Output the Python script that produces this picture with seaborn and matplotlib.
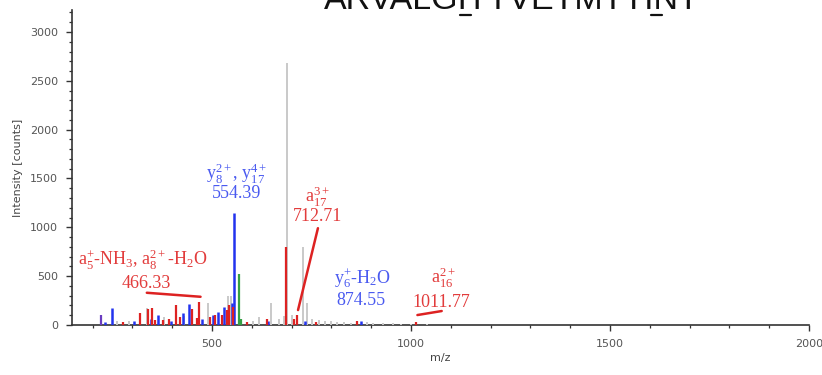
import matplotlib
matplotlib.use("Agg")
import matplotlib.pyplot as plt
from matplotlib.lines import Line2D
from matplotlib.ticker import MultipleLocator
import seaborn as sns
import pandas as pd

# ---------------- data ----------------
gray_mz = [262, 291, 336, 380, 430, 489, 539, 548, 603, 619, 647, 667, 681, 689,
           702, 729, 738, 752, 768, 785, 800, 815, 832, 850, 890, 905, 930, 955,
           975, 1000, 1040]
gray_int = [40, 40, 175, 80, 90, 230, 300, 300, 40, 85, 225, 60, 90, 2680,
            100, 800, 230, 60, 50, 40, 45, 30, 35, 25, 30, 25, 20, 25, 15, 15, 10]

blue_mz = [231, 249, 304, 346, 364, 397, 427, 443, 474, 502, 516, 531, 549.5,
           554.39, 640, 734, 874.55]
blue_int = [30, 177, 40, 60, 100, 40, 120, 220, 60, 100, 130, 180, 230,
            1150, 40, 40, 40]

red_mz = [276, 319, 338, 348, 357, 376, 393, 410, 420, 450, 461, 466.33, 495,
          507.5, 524, 537, 543.6, 552, 587, 637, 686, 705, 712.71, 760, 863.6,
          1011.77]
red_int = [30, 120, 160, 175, 50, 50, 60, 200, 80, 160, 70, 240, 80, 100, 100,
           150, 200, 180, 30, 60, 800, 60, 100, 30, 40, 30]

green_mz = [568.6, 572]
green_int = [520, 60]

purple_mz = [220]
purple_int = [100]

title_text = "ARVALGITTVETMTTINT"

ann_blue1 = r"$\mathrm{y}_{8}^{2+}$, $\mathrm{y}_{17}^{4+}$"
ann_blue1_val = "554.39"
ann_red1 = r"$\mathrm{a}_{17}^{3+}$"
ann_red1_val = "712.71"
ann_red2 = r"$\mathrm{a}_{5}^{+}$-NH$_{3}$, $\mathrm{a}_{8}^{2+}$-H$_{2}$O"
ann_red2_val = "466.33"
ann_blue2 = r"$\mathrm{y}_{6}^{+}$-H$_{2}$O"
ann_blue2_val = "874.55"
ann_red3 = r"$\mathrm{a}_{16}^{2+}$"
ann_red3_val = "1011.77"

# ---------------- style ----------------
sns.set_theme(style="ticks")
plt.rcParams["font.family"] = ["DejaVu Sans"]
plt.rcParams["mathtext.fontset"] = "custom"
plt.rcParams["mathtext.rm"] = "Liberation Serif"
plt.rcParams["mathtext.it"] = "Liberation Serif:italic"
plt.rcParams["mathtext.bf"] = "Liberation Serif:bold"

BLUE = "#2233ee"
BLUE_T = "#4a5af0"
RED = "#dd2222"
RED_T = "#e23c3c"
GRAY = "#c9c9c9"
GREEN = "#35a045"
PURPLE = "#6a3cc0"

fig = plt.figure(figsize=(8.22, 3.75), dpi=100)
ax = fig.add_axes([72 / 822, 1 - 325 / 375, (809 - 72) / 822, (325 - 10) / 375])

frames = []
for mz, it, c in [(gray_mz, gray_int, "gray"), (purple_mz, purple_int, "purple"),
                  (blue_mz, blue_int, "blue"), (red_mz, red_int, "red"),
                  (green_mz, green_int, "green")]:
    frames.append(pd.DataFrame({"mz": mz, "intensity": it, "ion": c}))
df = pd.concat(frames, ignore_index=True)

cmap = {"gray": GRAY, "purple": PURPLE, "blue": BLUE, "red": RED, "green": GREEN}
lw = {"gray": 1.4, "purple": 1.6, "blue": 1.8, "red": 1.6, "green": 1.6}
for ion in ["gray", "purple", "blue", "red", "green"]:
    sub = df[df["ion"] == ion]
    ax.vlines(sub["mz"], 0, sub["intensity"], color=cmap[ion], lw=lw[ion], zorder=3)

ax.set_xlim(148, 2000)
ax.set_ylim(0, 3225)
ax.xaxis.set_major_locator(MultipleLocator(500))
ax.xaxis.set_minor_locator(MultipleLocator(100))
ax.yaxis.set_major_locator(MultipleLocator(500))
ax.yaxis.set_minor_locator(MultipleLocator(100))
ax.tick_params(axis="both", which="major", direction="out", length=4, width=1,
               labelsize=8, labelcolor="#555555", color="#333333", pad=6)
ax.tick_params(axis="both", which="minor", direction="out", length=2.5, width=0.9,
               color="#333333")
for s in ["top", "right"]:
    ax.spines[s].set_visible(False)
for s in ["left", "bottom"]:
    ax.spines[s].set_color("#333333")
    ax.spines[s].set_linewidth(1.2)
ax.set_xlabel("m/z", fontsize=8, color="#444444", labelpad=3)
ax.set_ylabel("Intensity [counts]", fontsize=8, color="#444444", labelpad=5)

# ---------------- annotations ----------------
fs = 13
def lab(x, y, s, color):
    ax.text(x, y, s, ha="center", va="center", fontsize=fs, color=color,
            family="Liberation Serif", zorder=5)

lab(562, 1553, ann_blue1, BLUE_T)
lab(562, 1349, ann_blue1_val, BLUE_T)
lab(764, 1308, ann_red1, RED_T)
lab(765, 1114, ann_red1_val, RED_T)
lab(325, 664, ann_red2, RED_T)
lab(334, 429, ann_red2_val, RED_T)
lab(879, 480, ann_blue2, BLUE_T)
lab(874, 255, ann_blue2_val, BLUE_T)
lab(1080, 480, ann_red3, RED_T)
lab(1077, 235, ann_red3_val, RED_T)

ax.plot([336, 471], [330, 289], color=RED, lw=1.8, zorder=5)
ax.plot([766, 716], [991, 153], color=RED, lw=1.8, zorder=5)
ax.plot([1016, 1077], [102, 143], color=RED, lw=1.8, zorder=5)

# ---------------- title (clipped at top, as in the reference) ----------------
fig.text(511.5 / 822, 1 - 9 / 375, title_text, ha="center", va="baseline",
         fontsize=24.5, family="Liberation Sans", color="#111111")
for x0, x1 in [(460, 471), (651, 662)]:
    fig.add_artist(Line2D([x0 / 822, x1 / 822], [1 - 14.5 / 375, 1 - 14.5 / 375],
                          color="#111111", lw=1.6, transform=fig.transFigure))

fig.savefig("out.png", dpi=100)
